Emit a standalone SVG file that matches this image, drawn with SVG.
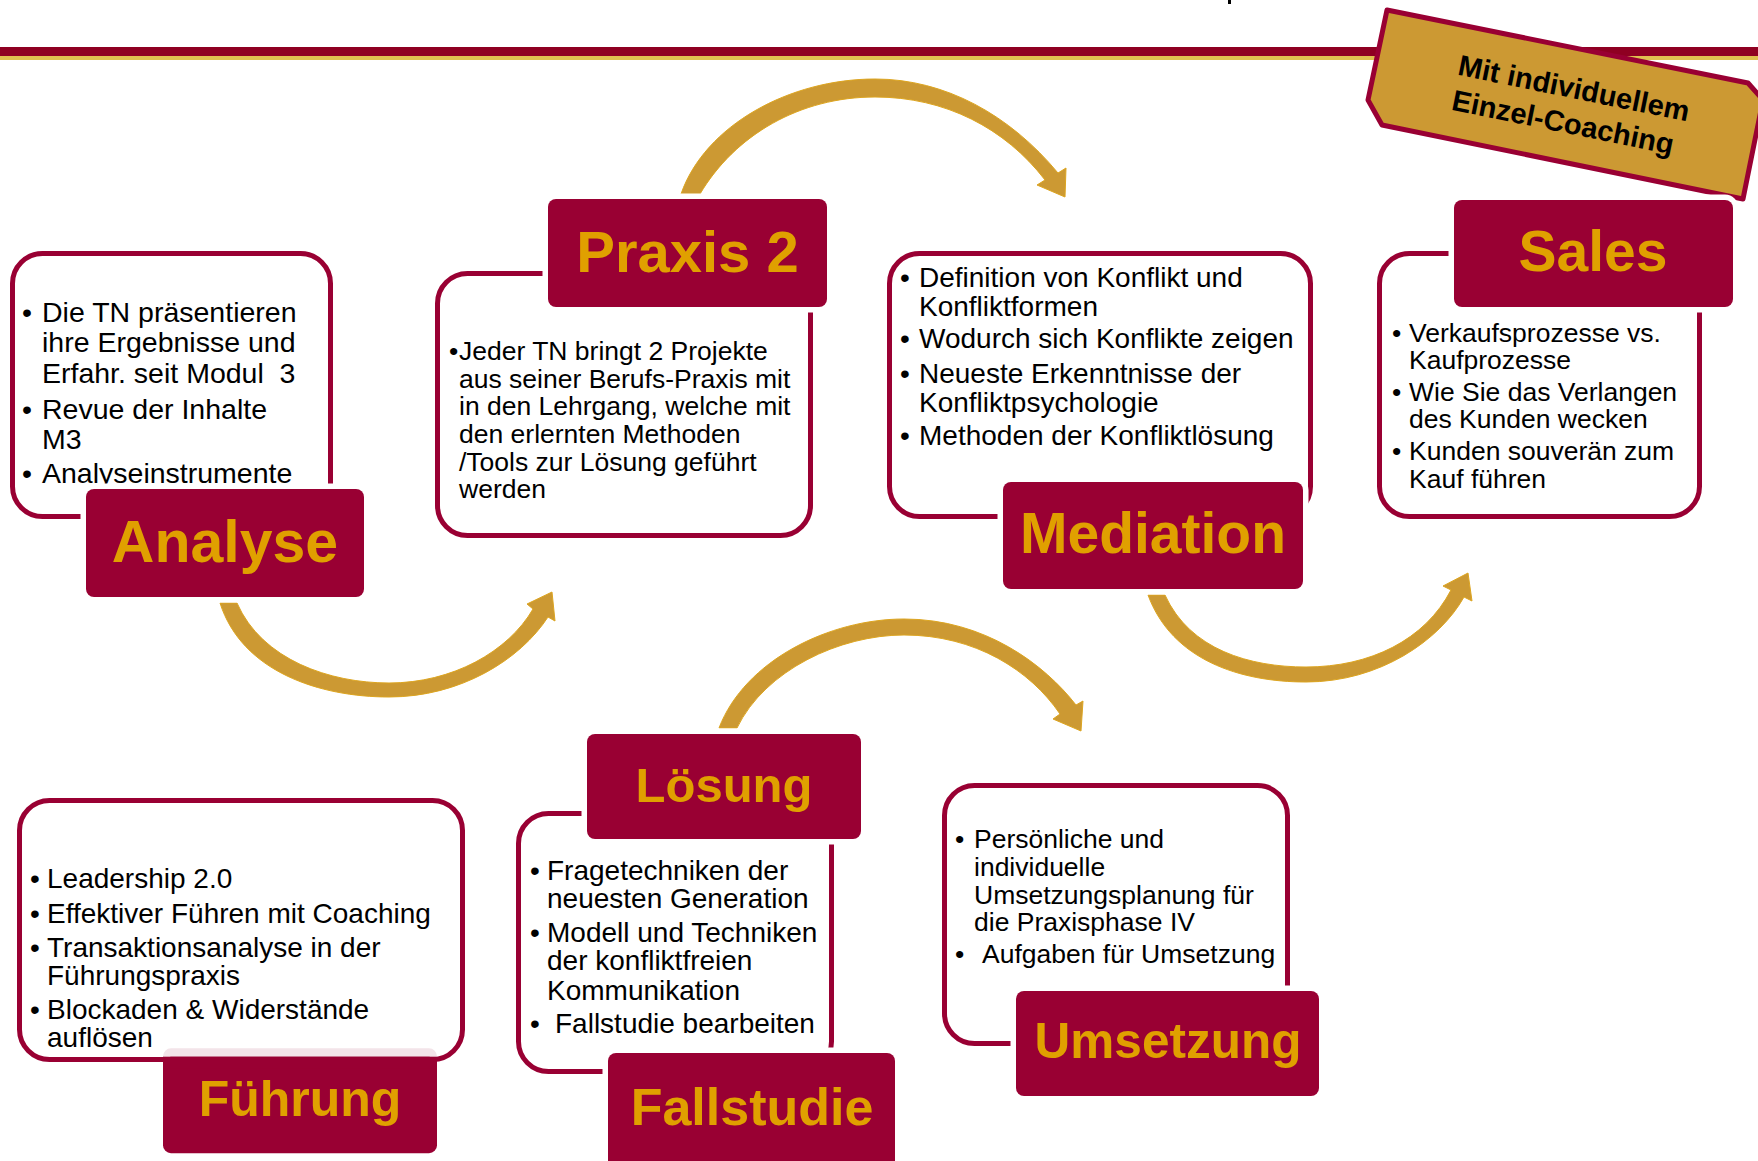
<svg xmlns="http://www.w3.org/2000/svg" width="1758" height="1161" viewBox="0 0 1758 1161">
<style>
.outline{fill:none;stroke:#990033;stroke-width:5}
.lbl{fill:#990033;stroke:#ffffff;stroke-width:11;paint-order:stroke}
.lbl2{fill:#990033}
.lt{font-family:"Liberation Sans",Arial,sans-serif;font-weight:bold;fill:#E0A000;text-anchor:middle}
.bt{font-family:"Liberation Sans",Arial,sans-serif;fill:#000000;white-space:pre}
.arrow{fill:#CC9933;stroke:#DDA520;stroke-width:1;stroke-linejoin:miter}
.badgetext{font-family:"Liberation Sans",Arial,sans-serif;font-weight:bold;font-size:29px;fill:#000000;text-anchor:middle}
</style>
<rect x="0" y="0" width="1758" height="1161" fill="#ffffff"/>
<g id="header">
<rect x="0" y="47" width="1758" height="9" fill="#8F0022"/>
<rect x="0" y="56" width="1758" height="4" fill="#E0C050"/>
<rect x="1228" y="0" width="3" height="4" fill="#000000"/>
</g>
<g id="badge">
<polygon points="1387,10 1748,83 1763,100 1743,199 1382,125 1368,100" fill="#CC9933" stroke="#990033" stroke-width="5" stroke-linejoin="round"/>
<text class="badgetext" x="1572" y="98" transform="rotate(11.5 1572 98)">Mit individuellem</text>
<text class="badgetext" x="1561" y="132" transform="rotate(11.5 1561 132)">Einzel-Coaching</text>
</g>
<g id="connectors">
<path id="arrow-analyse-praxis" class="arrow" d="M 220 603 C 242 672, 320 697, 389 697 C 460 697, 520 660, 548 617 L 555 621 L 552 592 L 527 604 L 533 609 C 508 652, 452 683, 389 683 C 330 683, 262 660, 237 603 Z"/>
<path id="arrow-praxis-mediation" class="arrow" d="M 681 194 C 705 125, 790 79, 875 79 C 945 79, 1010 115, 1058 173 L 1066 168 L 1065 197 L 1037 185 L 1045 180 C 1005 128, 945 97, 875 97 C 800 97, 735 135, 700 194 Z"/>
<path id="arrow-mediation-sales" class="arrow" d="M 1148 595 C 1172 660, 1240 682, 1306 682 C 1380 682, 1440 640, 1464 597 L 1472 601 L 1468 573 L 1443 586 L 1451 590 C 1425 640, 1370 667, 1306 667 C 1250 667, 1190 650, 1165 595 Z"/>
<path id="arrow-loesung-umsetzung" class="arrow" d="M 719 728 C 745 660, 830 619, 904 619 C 985 619, 1045 665, 1076 705 L 1083 701 L 1081 731 L 1053 719 L 1060 714 C 1030 670, 975 635, 904 635 C 840 635, 765 670, 737 728 Z"/>
</g>
<g id="node-analyse">
<rect class="outline" x="12.5" y="253.5" width="318" height="263" rx="30"/>
<g class="bt" font-size="28.5">
<text x="22" y="322">•</text><text x="42" y="322">Die TN präsentieren</text>
<text x="42" y="352">ihre Ergebnisse und</text>
<text x="42" y="382.7" xml:space="preserve">Erfahr. seit Modul  3</text>
<text x="22" y="419">•</text><text x="42" y="419">Revue der Inhalte</text>
<text x="42" y="449">M3</text>
<text x="22" y="483">•</text><text x="42" y="483">Analyseinstrumente</text>
</g>
<rect class="lbl" x="86" y="489" width="278" height="108" rx="8"/>
<text class="lt" x="225" y="562" font-size="59">Analyse</text>
</g>
<g id="node-praxis2">
<rect class="outline" x="437.5" y="273.5" width="373" height="262" rx="30"/>
<g class="bt" font-size="26.5">
<text x="449" y="360">•</text><text x="459" y="360">Jeder TN bringt 2 Projekte</text>
<text x="459" y="387.7">aus seiner Berufs-Praxis mit</text>
<text x="459" y="415">in den Lehrgang, welche mit</text>
<text x="459" y="443">den erlernten Methoden</text>
<text x="459" y="470.7">/Tools zur Lösung geführt</text>
<text x="459" y="498">werden</text>
</g>
<rect class="lbl" x="548" y="199" width="279" height="108" rx="8"/>
<text class="lt" x="687.5" y="271.7" font-size="58">Praxis 2</text>
</g>
<g id="node-mediation">
<rect class="outline" x="889.5" y="253.5" width="421" height="263" rx="30"/>
<g class="bt" font-size="28">
<text x="900" y="286.7">•</text><text x="919" y="286.7">Definition von Konflikt und</text>
<text x="919" y="316">Konfliktformen</text>
<text x="900" y="348.3">•</text><text x="919" y="348.3">Wodurch sich Konflikte zeigen</text>
<text x="900" y="382.7">•</text><text x="919" y="382.7">Neueste Erkenntnisse der</text>
<text x="919" y="411.7">Konfliktpsychologie</text>
<text x="900" y="445">•</text><text x="919" y="445">Methoden der Konfliktlösung</text>
</g>
<rect class="lbl" x="1003" y="482" width="300" height="107" rx="8"/>
<text class="lt" x="1153" y="552.7" font-size="57">Mediation</text>
</g>
<g id="node-sales">
<rect class="outline" x="1379.5" y="253.5" width="320" height="263" rx="30"/>
<g class="bt" font-size="26.5">
<text x="1392" y="341.7">•</text><text x="1409" y="341.7">Verkaufsprozesse vs.</text>
<text x="1409" y="369.3">Kaufprozesse</text>
<text x="1392" y="400.7">•</text><text x="1409" y="400.7">Wie Sie das Verlangen</text>
<text x="1409" y="428.3">des Kunden wecken</text>
<text x="1392" y="460">•</text><text x="1409" y="460">Kunden souverän zum</text>
<text x="1409" y="487.7">Kauf führen</text>
</g>
<rect class="lbl" x="1454" y="200" width="279" height="107" rx="8"/>
<text class="lt" x="1593" y="270.7" font-size="57">Sales</text>
</g>
<g id="node-fuehrung">
<rect class="outline" x="19.5" y="800.5" width="443" height="259" rx="30"/>
<g class="bt" font-size="28">
<text x="30" y="888.3">•</text><text x="47" y="888.3">Leadership 2.0</text>
<text x="30" y="922.7">•</text><text x="47" y="922.7">Effektiver Führen mit Coaching</text>
<text x="30" y="956.7">•</text><text x="47" y="956.7">Transaktionsanalyse in der</text>
<text x="47" y="985">Führungspraxis</text>
<text x="30" y="1019.3">•</text><text x="47" y="1019.3">Blockaden &amp; Widerstände</text>
<text x="47" y="1047.3">auflösen</text>
</g>
<rect x="163" y="1048.3" width="274" height="20" rx="8" fill="#F3E4E9"/>
<rect class="lbl2" x="163" y="1056.7" width="274" height="96.5" rx="8"/>
<rect class="lbl2" x="163" y="1056.7" width="274" height="12"/>
<text class="lt" x="300" y="1116" font-size="50">Führung</text>
</g>
<g id="node-loesung-fallstudie">
<rect class="outline" x="518.5" y="813.5" width="313" height="258" rx="30"/>
<g class="bt" font-size="28">
<text x="530" y="880">•</text><text x="547" y="880">Fragetechniken der</text>
<text x="547" y="908.3">neuesten Generation</text>
<text x="530" y="941.7">•</text><text x="547" y="941.7">Modell und Techniken</text>
<text x="547" y="970">der konfliktfreien</text>
<text x="547" y="1000">Kommunikation</text>
<text x="530" y="1033.3">•</text><text x="555" y="1033.3">Fallstudie bearbeiten</text>
</g>
<g id="label-loesung">
<rect class="lbl" x="587" y="734" width="274" height="105" rx="8"/>
<text class="lt" x="724" y="801.7" font-size="49">Lösung</text>
</g>
<g id="label-fallstudie">
<rect class="lbl" x="608" y="1053" width="287" height="125" rx="8"/>
<text class="lt" x="752" y="1125" font-size="52">Fallstudie</text>
</g>
</g>
<g id="node-umsetzung">
<rect class="outline" x="944.5" y="785.5" width="343" height="258" rx="30"/>
<g class="bt" font-size="26.5">
<text x="955" y="848.3">•</text><text x="974" y="848.3">Persönliche und</text>
<text x="974" y="876">individuelle</text>
<text x="974" y="904">Umsetzungsplanung für</text>
<text x="974" y="930.7">die Praxisphase IV</text>
<text x="955" y="962.7">•</text><text x="982" y="962.7">Aufgaben für Umsetzung</text>
</g>
<rect class="lbl" x="1016" y="991" width="303" height="105" rx="8"/>
<text class="lt" x="1168" y="1058.3" font-size="49.5">Umsetzung</text>
</g>
</svg>
